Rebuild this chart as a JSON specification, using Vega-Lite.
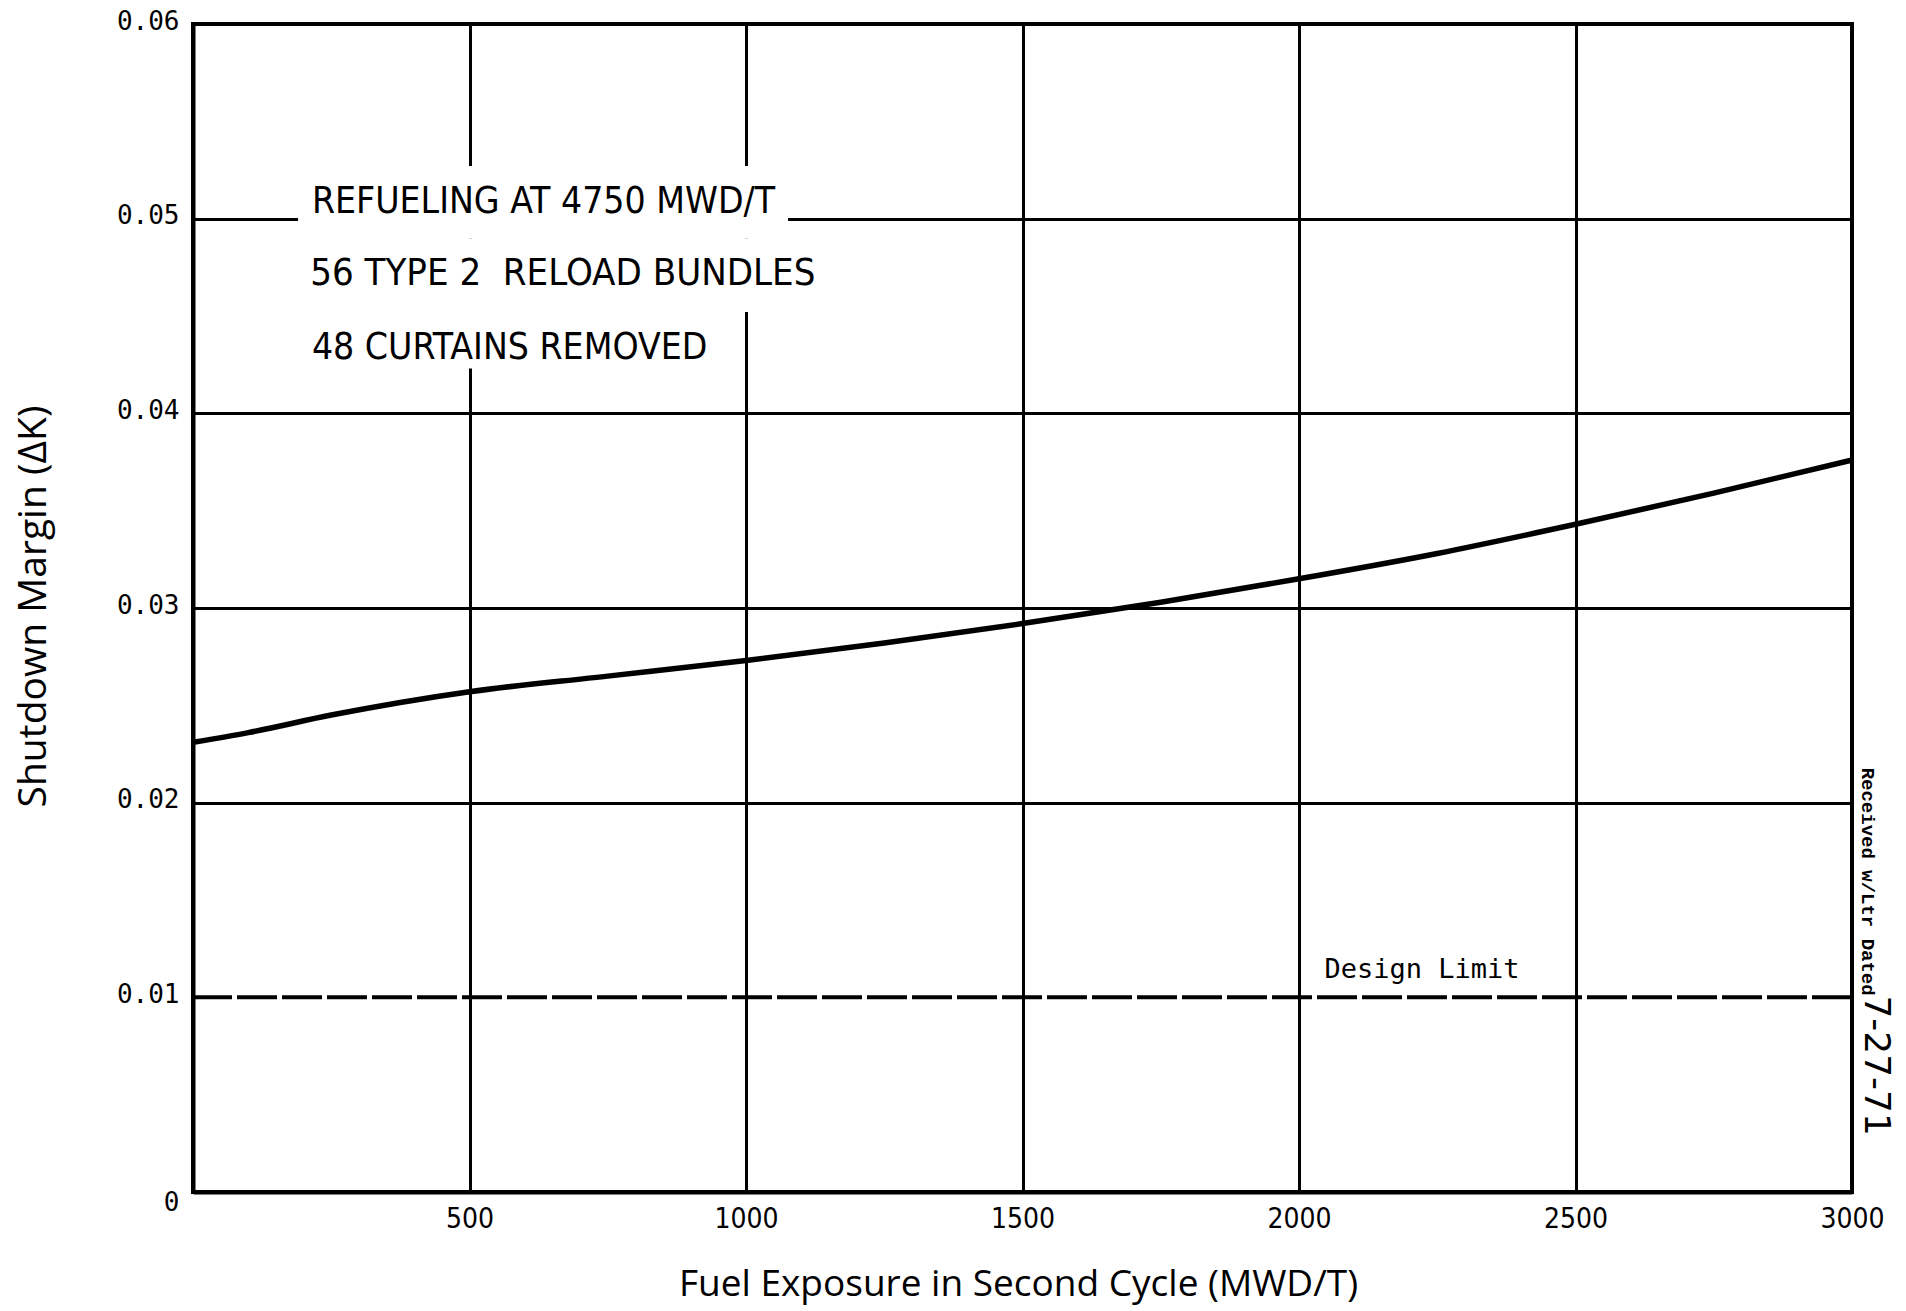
{
  "$schema": "https://vega.github.io/schema/vega-lite/v6.json",
  "width": 1659,
  "height": 1168,
  "autosize": {"type": "none"},
  "padding": {"left": 193, "top": 24, "right": 54, "bottom": 119},
  "background": "white",
  "config": {"view": {"stroke": "black", "strokeWidth": 4}},
  "datasets": {
    "curve": [
      {"exposure": 0, "margin": 0.0231},
      {"exposure": 100, "margin": 0.0236},
      {"exposure": 250, "margin": 0.0245},
      {"exposure": 500, "margin": 0.0257},
      {"exposure": 750, "margin": 0.0265},
      {"exposure": 1000, "margin": 0.0273},
      {"exposure": 1250, "margin": 0.0282},
      {"exposure": 1500, "margin": 0.0292},
      {"exposure": 1750, "margin": 0.0303},
      {"exposure": 2000, "margin": 0.0315},
      {"exposure": 2250, "margin": 0.0328},
      {"exposure": 2500, "margin": 0.0343},
      {"exposure": 2750, "margin": 0.0359},
      {"exposure": 3000, "margin": 0.0376}
    ]
  },
  "layer": [
    {
      "data": {"name": "curve"},
      "mark": {"type": "line", "color": "black", "strokeWidth": 5.5, "interpolate": "monotone"},
      "encoding": {
        "x": {
          "field": "exposure",
          "type": "quantitative",
          "scale": {"domain": [0, 3000], "nice": false, "zero": false},
          "axis": {
            "title": "Fuel Exposure in Second Cycle (MWD/T)",
            "values": [0, 500, 1000, 1500, 2000, 2500, 3000],
            "format": "d",
            "grid": true,
            "gridColor": "black",
            "gridWidth": 3,
            "domain": true,
            "domainColor": "black",
            "domainWidth": 4,
            "ticks": false,
            "labelExpr": "datum.value == 0 ? '' : datum.label",
            "labelFont": "DejaVu Sans Condensed, sans-serif",
            "labelFontSize": 28,
            "labelColor": "black",
            "labelPadding": 13,
            "labelFlush": false,
            "labelOverlap": false,
            "labelBound": false,
            "titleFont": "Open Sans",
            "titleFontSize": 37,
            "titleFontWeight": "normal",
            "titleColor": "black",
            "titleX": 825,
            "titleY": 92,
            "titleBaseline": "middle"
          }
        },
        "y": {
          "field": "margin",
          "type": "quantitative",
          "scale": {"domain": [0, 0.06], "nice": false},
          "axis": {
            "title": "Shutdown Margin (ΔK)",
            "values": [0, 0.01, 0.02, 0.03, 0.04, 0.05, 0.06],
            "grid": true,
            "gridColor": "black",
            "gridWidth": 3,
            "gridOpacity": {"condition": {"test": "datum.value == 0.01", "value": 0}, "value": 1},
            "domain": true,
            "domainColor": "black",
            "domainWidth": 4,
            "ticks": false,
            "labelExpr": "datum.value == 0 ? '0' : format(datum.value, '.2f')",
            "labelFont": "DejaVu Sans Mono",
            "labelFontSize": 26,
            "labelColor": "black",
            "labelPadding": 14,
            "labelOffset": -3,
            "labelBaseline": {"condition": {"test": "datum.value == 0", "value": "top"}, "value": "middle"},
            "labelOverlap": false,
            "labelBound": false,
            "titleFont": "Open Sans",
            "titleFontSize": 39,
            "titleFontWeight": "normal",
            "titleColor": "black",
            "titleX": -160,
            "titleY": 582,
            "titleAngle": -90,
            "titleBaseline": "middle"
          }
        }
      }
    },
    {
      "data": {"values": [{}]},
      "mark": {"type": "rect", "color": "white"},
      "encoding": {
        "x": {"datum": 190, "type": "quantitative"},
        "x2": {"datum": 1076},
        "y": {"datum": 0.0527, "type": "quantitative"},
        "y2": {"datum": 0.0490}
      }
    },
    {
      "data": {"values": [{}]},
      "mark": {"type": "rect", "color": "white"},
      "encoding": {
        "x": {"datum": 190, "type": "quantitative"},
        "x2": {"datum": 1145},
        "y": {"datum": 0.0490, "type": "quantitative"},
        "y2": {"datum": 0.0452}
      }
    },
    {
      "data": {"values": [{}]},
      "mark": {"type": "rect", "color": "white"},
      "encoding": {
        "x": {"datum": 190, "type": "quantitative"},
        "x2": {"datum": 975},
        "y": {"datum": 0.0452, "type": "quantitative"},
        "y2": {"datum": 0.0423}
      }
    },
    {
      "data": {"values": [{}]},
      "mark": {"type": "rule", "color": "black", "strokeWidth": 4, "strokeDash": [40, 5]},
      "encoding": {"y": {"datum": 0.01, "type": "quantitative"}}
    },
    {
      "data": {"values": [{}]},
      "mark": {"type": "text", "text": "REFUELING AT 4750 MWD/T", "align": "left", "baseline": "alphabetic", "font": "DejaVu Sans Condensed, sans-serif", "fontSize": 37, "color": "black"},
      "encoding": {"x": {"datum": 215, "type": "quantitative"}, "y": {"datum": 0.0503, "type": "quantitative"}}
    },
    {
      "data": {"values": [{}]},
      "mark": {"type": "text", "text": "56 TYPE 2\u00a0\u00a0RELOAD BUNDLES", "align": "left", "baseline": "alphabetic", "font": "DejaVu Sans Condensed, sans-serif", "fontSize": 38, "color": "black"},
      "encoding": {"x": {"datum": 212, "type": "quantitative"}, "y": {"datum": 0.0466, "type": "quantitative"}}
    },
    {
      "data": {"values": [{}]},
      "mark": {"type": "text", "text": "48 CURTAINS REMOVED", "align": "left", "baseline": "alphabetic", "font": "DejaVu Sans Condensed, sans-serif", "fontSize": 37, "color": "black"},
      "encoding": {"x": {"datum": 215, "type": "quantitative"}, "y": {"datum": 0.0428, "type": "quantitative"}}
    },
    {
      "data": {"values": [{}]},
      "mark": {"type": "text", "text": "Design Limit", "align": "left", "baseline": "alphabetic", "font": "DejaVu Sans Mono", "fontSize": 27, "color": "black"},
      "encoding": {"x": {"datum": 2046, "type": "quantitative"}, "y": {"datum": 0.0110, "type": "quantitative"}}
    },
    {
      "data": {"values": [{}]},
      "mark": {"type": "text", "text": "Received w/Ltr Dated", "align": "left", "baseline": "middle", "angle": 90, "font": "Liberation Mono", "fontWeight": "bold", "fontSize": 19, "color": "black"},
      "encoding": {"x": {"datum": 3029, "type": "quantitative"}, "y": {"datum": 0.0218, "type": "quantitative"}}
    },
    {
      "data": {"values": [{}]},
      "mark": {"type": "text", "text": "7-27-71", "align": "left", "baseline": "middle", "angle": 90, "font": "DejaVu Sans", "fontSize": 36, "color": "black"},
      "encoding": {"x": {"datum": 3044, "type": "quantitative"}, "y": {"datum": 0.0101, "type": "quantitative"}}
    }
  ]
}
